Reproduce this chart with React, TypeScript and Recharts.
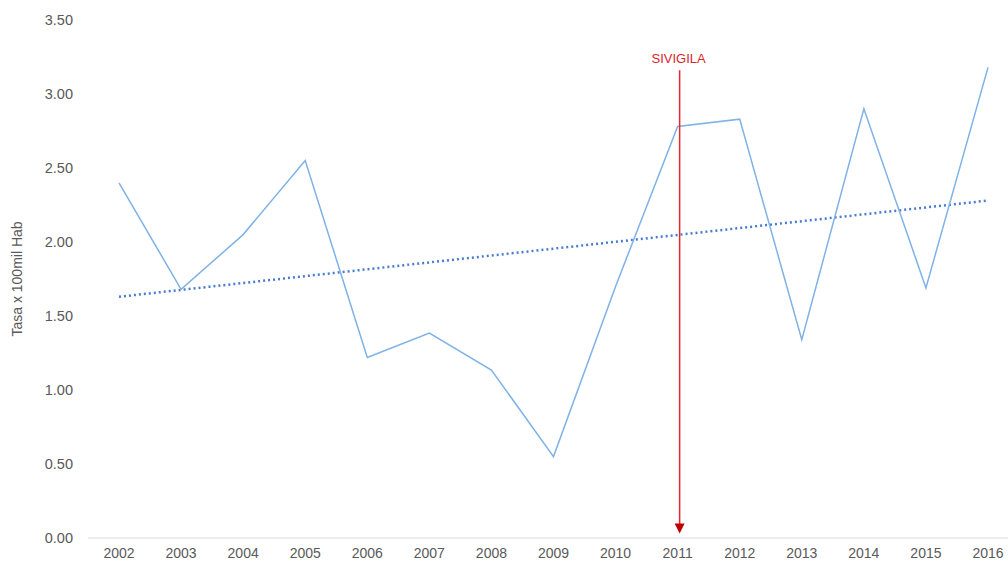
import React from 'react';
import { LineChart, Line, XAxis, YAxis, ReferenceLine } from 'recharts';

const years = ['2002','2003','2004','2005','2006','2007','2008','2009','2010','2011','2012','2013','2014','2015','2016'];
const tasa = [2.40, 1.68, 2.05, 2.55, 1.22, 1.385, 1.135, 0.55, 1.70, 2.78, 2.83, 1.34, 2.90, 1.69, 3.18];
const trendEnds: (number | null)[] = [1.63, null, null, null, null, null, null, null, null, null, null, null, null, null, 2.28];
const yTicks = [0, 0.5, 1, 1.5, 2, 2.5, 3, 3.5];
const markerYear = '2011';
const markerLabel = 'SIVIGILA';
const markerTop = 3.16;
const markerBottom = 0.03;

const data = years.map((y, i) => ({ year: y, tasa: tasa[i], trend: trendEnds[i] }));

const ArrowShape = (props: any) => {
  const { x1, y1, x2, y2 } = props;
  return (
    <g>
      <text x={x1 + 1} y={y1 - 7} textAnchor="middle" fill="#d9262b" fontSize={13} fontFamily="Liberation Sans, Arial, sans-serif">{markerLabel}</text>
      <line x1={x1 + 2} y1={y1} x2={x2 + 2} y2={y2 - 8} stroke="#e8262b" strokeWidth={1.5} />
      <polygon points={`${x2 - 3},${y2 - 10} ${x2 + 7},${y2 - 10} ${x2 + 2},${y2}`} fill="#c00000" />
    </g>
  );
};

export default function App() {
  return (
    <div style={{ position: 'absolute', left: 0, top: 0, width: 1008, height: 561, background: '#fff', overflow: 'hidden' }}>
      <LineChart width={1008} height={561} data={data} margin={{ top: 20, right: 0, bottom: 3, left: 0 }}>
        <XAxis
          dataKey="year"
          height={20}
          padding={{ left: 31, right: 20 }}
          tickLine={false}
          tickSize={0}
          tickMargin={10}
          axisLine={{ stroke: '#d9d9d9' }}
          tick={{ fill: '#595959', fontSize: 14, fontFamily: 'Liberation Sans, Arial, sans-serif' }}
          interval={0}
        />
        <YAxis
          width={88}
          domain={[0, 3.5]}
          ticks={yTicks}
          axisLine={false}
          tickLine={false}
          tickSize={0}
          tickMargin={15}
          tickFormatter={(v: number) => v.toFixed(2)}
          tick={{ fill: '#595959', fontSize: 14.5, fontFamily: 'Liberation Sans, Arial, sans-serif' }}
          label={{ value: 'Tasa x 100mil Hab', angle: -90, position: 'insideLeft', offset: 17, style: { fill: '#595959', fontSize: 14, fontFamily: 'Liberation Sans, Arial, sans-serif', textAnchor: 'middle' } }}
        />
        <Line type="linear" dataKey="trend" stroke="#4a7bd0" strokeWidth={2.5} strokeDasharray="2 3" dot={false} connectNulls isAnimationActive={false} />
        <Line type="linear" dataKey="tasa" stroke="#7fb2e5" strokeWidth={1.5} dot={false} isAnimationActive={false} />
        <ReferenceLine
          segment={[{ x: markerYear, y: markerTop }, { x: markerYear, y: markerBottom }]}
          shape={<ArrowShape />}
          ifOverflow="visible"
        />
      </LineChart>
    </div>
  );
}
